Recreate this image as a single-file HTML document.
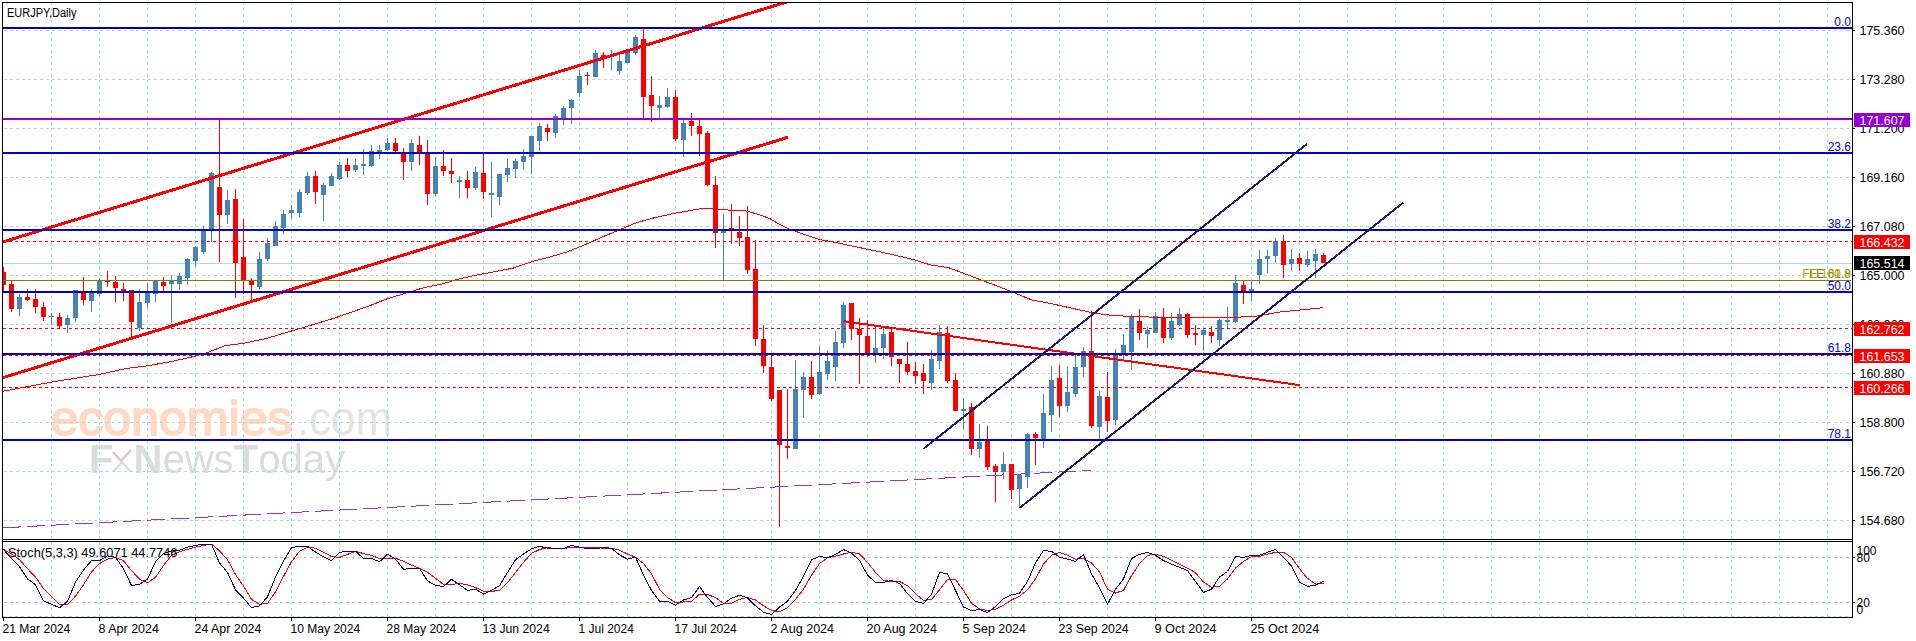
<!DOCTYPE html><html><head><meta charset="utf-8"><title>EURJPY Daily</title>
<style>html,body{margin:0;padding:0;background:#fff;}body{width:1916px;height:641px;overflow:hidden;}svg{display:block;}text{font-family:"Liberation Sans",sans-serif;font-size:12px;}</style></head><body>
<svg width="1916" height="641" viewBox="0 0 1916 641">
<defs><filter id="bl" x="-5%" y="-20%" width="110%" height="140%"><feGaussianBlur stdDeviation="0.7"/></filter>
<clipPath id="cm"><rect x="3" y="3" width="1849" height="536"/></clipPath>
<clipPath id="cs"><rect x="3" y="542" width="1849" height="75"/></clipPath></defs>
<rect width="1916" height="641" fill="#fff"/>
<g filter="url(#bl)">
<text x="50.5" y="435" fill="#ffd9c2" stroke="#ffd9c2" stroke-width="1.8" stroke-linejoin="round" textLength="242" lengthAdjust="spacingAndGlyphs" style="font-size:48px">economies</text>
<text x="297" y="435" fill="#e4e4e4" textLength="95" lengthAdjust="spacingAndGlyphs" style="font-size:48px">.com</text>
<text x="89" y="473" fill="#dcdcdc" textLength="256" lengthAdjust="spacingAndGlyphs" style="font-size:40px"><tspan font-weight="bold">F</tspan><tspan fill="#fff">x</tspan><tspan font-weight="bold">N</tspan>ews<tspan font-weight="bold">T</tspan>oday</text>
<path d="M113 452 L121 461 L131 450" stroke="#e9c4c4" stroke-width="2.5" fill="none"/>
<path d="M113 472 L122 462 L131 472" stroke="#cfe3cf" stroke-width="2.5" fill="none"/>
</g>
<g shape-rendering="crispEdges">
<g stroke="#a6dde6" stroke-width="1" stroke-dasharray="3,3" fill="none">
<path d="M51.5 2V539M51.5 542V617"/>
<path d="M99.5 2V539M99.5 542V617"/>
<path d="M147.5 2V539M147.5 542V617"/>
<path d="M195.5 2V539M195.5 542V617"/>
<path d="M243.5 2V539M243.5 542V617"/>
<path d="M291.5 2V539M291.5 542V617"/>
<path d="M339.5 2V539M339.5 542V617"/>
<path d="M387.5 2V539M387.5 542V617"/>
<path d="M435.5 2V539M435.5 542V617"/>
<path d="M483.5 2V539M483.5 542V617"/>
<path d="M531.5 2V539M531.5 542V617"/>
<path d="M579.5 2V539M579.5 542V617"/>
<path d="M627.5 2V539M627.5 542V617"/>
<path d="M675.5 2V539M675.5 542V617"/>
<path d="M723.5 2V539M723.5 542V617"/>
<path d="M771.5 2V539M771.5 542V617"/>
<path d="M819.5 2V539M819.5 542V617"/>
<path d="M867.5 2V539M867.5 542V617"/>
<path d="M915.5 2V539M915.5 542V617"/>
<path d="M963.5 2V539M963.5 542V617"/>
<path d="M1011.5 2V539M1011.5 542V617"/>
<path d="M1059.5 2V539M1059.5 542V617"/>
<path d="M1107.5 2V539M1107.5 542V617"/>
<path d="M1155.5 2V539M1155.5 542V617"/>
<path d="M1203.5 2V539M1203.5 542V617"/>
<path d="M1251.5 2V539M1251.5 542V617"/>
<path d="M1299.5 2V539M1299.5 542V617"/>
<path d="M1347.5 2V539M1347.5 542V617"/>
<path d="M1395.5 2V539M1395.5 542V617"/>
<path d="M1443.5 2V539M1443.5 542V617"/>
<path d="M1491.5 2V539M1491.5 542V617"/>
<path d="M1539.5 2V539M1539.5 542V617"/>
<path d="M1587.5 2V539M1587.5 542V617"/>
<path d="M1635.5 2V539M1635.5 542V617"/>
<path d="M1683.5 2V539M1683.5 542V617"/>
<path d="M1731.5 2V539M1731.5 542V617"/>
<path d="M1779.5 2V539M1779.5 542V617"/>
<path d="M1827.5 2V539M1827.5 542V617"/>
<path d="M4 30.5H1852"/>
<path d="M4 79.5H1852"/>
<path d="M4 128.5H1852"/>
<path d="M4 177.5H1852"/>
<path d="M4 226.5H1852"/>
<path d="M4 275.5H1852"/>
<path d="M4 324.5H1852"/>
<path d="M4 373.5H1852"/>
<path d="M4 422.5H1852"/>
<path d="M4 471.5H1852"/>
<path d="M4 520.5H1852"/>
<path d="M3 616.5H1852"/>
</g>
<g stroke="#c0c0c0" stroke-width="1" stroke-dasharray="3,3"><path d="M4 557.5H1852M4 602.5H1852"/></g>
<rect x="3" y="263" width="1849" height="1" fill="#a9d9e4"/>
<g clip-path="url(#cm)">
<rect x="3" y="267" width="1" height="25" fill="#ff0000"/>
<rect x="1" y="272" width="5" height="13" fill="#ff0000"/>
<rect x="11" y="281" width="1" height="31" fill="#ff0000"/>
<rect x="9" y="284" width="5" height="25" fill="#ff0000"/>
<rect x="19" y="294" width="1" height="22" fill="#4682b4"/>
<rect x="17" y="297" width="5" height="12" fill="#4682b4"/>
<rect x="27" y="289" width="1" height="12" fill="#ff0000"/>
<rect x="25" y="297" width="5" height="3" fill="#ff0000"/>
<rect x="35" y="289" width="1" height="24" fill="#ff0000"/>
<rect x="33" y="299" width="5" height="8" fill="#ff0000"/>
<rect x="43" y="302" width="1" height="19" fill="#ff0000"/>
<rect x="41" y="307" width="5" height="10" fill="#ff0000"/>
<rect x="51" y="313" width="1" height="12" fill="#4682b4"/>
<rect x="49" y="316" width="5" height="1" fill="#4682b4"/>
<rect x="59" y="313" width="1" height="15" fill="#ff0000"/>
<rect x="57" y="317" width="5" height="9" fill="#ff0000"/>
<rect x="67" y="315" width="1" height="18" fill="#4682b4"/>
<rect x="65" y="318" width="5" height="7" fill="#4682b4"/>
<rect x="75" y="290" width="1" height="32" fill="#4682b4"/>
<rect x="73" y="290" width="5" height="28" fill="#4682b4"/>
<rect x="83" y="277" width="1" height="28" fill="#ff0000"/>
<rect x="81" y="292" width="5" height="8" fill="#ff0000"/>
<rect x="91" y="289" width="1" height="23" fill="#4682b4"/>
<rect x="89" y="292" width="5" height="9" fill="#4682b4"/>
<rect x="99" y="278" width="1" height="18" fill="#4682b4"/>
<rect x="97" y="280" width="5" height="14" fill="#4682b4"/>
<rect x="107" y="271" width="1" height="16" fill="#ff0000"/>
<rect x="105" y="281" width="5" height="1" fill="#ff0000"/>
<rect x="115" y="276" width="1" height="26" fill="#ff0000"/>
<rect x="113" y="282" width="5" height="6" fill="#ff0000"/>
<rect x="123" y="283" width="1" height="18" fill="#ff0000"/>
<rect x="121" y="289" width="5" height="2" fill="#ff0000"/>
<rect x="131" y="290" width="1" height="50" fill="#ff0000"/>
<rect x="129" y="290" width="5" height="32" fill="#ff0000"/>
<rect x="139" y="289" width="1" height="42" fill="#4682b4"/>
<rect x="137" y="302" width="5" height="26" fill="#4682b4"/>
<rect x="147" y="283" width="1" height="25" fill="#4682b4"/>
<rect x="145" y="292" width="5" height="11" fill="#4682b4"/>
<rect x="155" y="280" width="1" height="22" fill="#4682b4"/>
<rect x="153" y="280" width="5" height="14" fill="#4682b4"/>
<rect x="163" y="277" width="1" height="14" fill="#ff0000"/>
<rect x="161" y="282" width="5" height="4" fill="#ff0000"/>
<rect x="171" y="275" width="1" height="48" fill="#4682b4"/>
<rect x="169" y="281" width="5" height="3" fill="#4682b4"/>
<rect x="179" y="273" width="1" height="17" fill="#4682b4"/>
<rect x="177" y="276" width="5" height="8" fill="#4682b4"/>
<rect x="187" y="258" width="1" height="27" fill="#4682b4"/>
<rect x="185" y="259" width="5" height="19" fill="#4682b4"/>
<rect x="195" y="246" width="1" height="21" fill="#4682b4"/>
<rect x="193" y="247" width="5" height="14" fill="#4682b4"/>
<rect x="203" y="226" width="1" height="28" fill="#4682b4"/>
<rect x="201" y="229" width="5" height="23" fill="#4682b4"/>
<rect x="211" y="172" width="1" height="70" fill="#4682b4"/>
<rect x="209" y="173" width="5" height="56" fill="#4682b4"/>
<rect x="219" y="119" width="1" height="143" fill="#ff0000"/>
<rect x="217" y="187" width="5" height="28" fill="#ff0000"/>
<rect x="227" y="190" width="1" height="34" fill="#4682b4"/>
<rect x="225" y="200" width="5" height="15" fill="#4682b4"/>
<rect x="235" y="189" width="1" height="109" fill="#ff0000"/>
<rect x="233" y="199" width="5" height="64" fill="#ff0000"/>
<rect x="243" y="219" width="1" height="75" fill="#ff0000"/>
<rect x="241" y="257" width="5" height="24" fill="#ff0000"/>
<rect x="251" y="278" width="1" height="22" fill="#ff0000"/>
<rect x="249" y="280" width="5" height="5" fill="#ff0000"/>
<rect x="259" y="252" width="1" height="37" fill="#4682b4"/>
<rect x="257" y="259" width="5" height="28" fill="#4682b4"/>
<rect x="267" y="238" width="1" height="23" fill="#4682b4"/>
<rect x="265" y="243" width="5" height="16" fill="#4682b4"/>
<rect x="275" y="221" width="1" height="25" fill="#4682b4"/>
<rect x="273" y="226" width="5" height="20" fill="#4682b4"/>
<rect x="283" y="210" width="1" height="24" fill="#4682b4"/>
<rect x="281" y="214" width="5" height="14" fill="#4682b4"/>
<rect x="291" y="205" width="1" height="14" fill="#4682b4"/>
<rect x="289" y="210" width="5" height="3" fill="#4682b4"/>
<rect x="299" y="189" width="1" height="28" fill="#4682b4"/>
<rect x="297" y="192" width="5" height="21" fill="#4682b4"/>
<rect x="307" y="172" width="1" height="23" fill="#4682b4"/>
<rect x="305" y="176" width="5" height="17" fill="#4682b4"/>
<rect x="315" y="171" width="1" height="33" fill="#ff0000"/>
<rect x="313" y="176" width="5" height="16" fill="#ff0000"/>
<rect x="323" y="183" width="1" height="38" fill="#4682b4"/>
<rect x="321" y="185" width="5" height="10" fill="#4682b4"/>
<rect x="331" y="173" width="1" height="13" fill="#4682b4"/>
<rect x="329" y="176" width="5" height="10" fill="#4682b4"/>
<rect x="339" y="162" width="1" height="18" fill="#4682b4"/>
<rect x="337" y="165" width="5" height="14" fill="#4682b4"/>
<rect x="347" y="158" width="1" height="19" fill="#ff0000"/>
<rect x="345" y="165" width="5" height="6" fill="#ff0000"/>
<rect x="355" y="159" width="1" height="13" fill="#4682b4"/>
<rect x="353" y="165" width="5" height="5" fill="#4682b4"/>
<rect x="363" y="149" width="1" height="26" fill="#4682b4"/>
<rect x="361" y="164" width="5" height="2" fill="#4682b4"/>
<rect x="371" y="145" width="1" height="22" fill="#4682b4"/>
<rect x="369" y="151" width="5" height="15" fill="#4682b4"/>
<rect x="379" y="145" width="1" height="14" fill="#4682b4"/>
<rect x="377" y="150" width="5" height="2" fill="#4682b4"/>
<rect x="387" y="138" width="1" height="13" fill="#4682b4"/>
<rect x="385" y="143" width="5" height="7" fill="#4682b4"/>
<rect x="395" y="138" width="1" height="14" fill="#ff0000"/>
<rect x="393" y="143" width="5" height="8" fill="#ff0000"/>
<rect x="403" y="148" width="1" height="32" fill="#ff0000"/>
<rect x="401" y="153" width="5" height="9" fill="#ff0000"/>
<rect x="411" y="139" width="1" height="32" fill="#4682b4"/>
<rect x="409" y="143" width="5" height="19" fill="#4682b4"/>
<rect x="419" y="136" width="1" height="29" fill="#ff0000"/>
<rect x="417" y="145" width="5" height="7" fill="#ff0000"/>
<rect x="427" y="140" width="1" height="65" fill="#ff0000"/>
<rect x="425" y="153" width="5" height="41" fill="#ff0000"/>
<rect x="435" y="157" width="1" height="39" fill="#4682b4"/>
<rect x="433" y="166" width="5" height="28" fill="#4682b4"/>
<rect x="443" y="150" width="1" height="26" fill="#ff0000"/>
<rect x="441" y="166" width="5" height="5" fill="#ff0000"/>
<rect x="451" y="158" width="1" height="25" fill="#ff0000"/>
<rect x="449" y="171" width="5" height="3" fill="#ff0000"/>
<rect x="459" y="176" width="1" height="22" fill="#4682b4"/>
<rect x="457" y="180" width="5" height="2" fill="#4682b4"/>
<rect x="467" y="171" width="1" height="27" fill="#ff0000"/>
<rect x="465" y="180" width="5" height="8" fill="#ff0000"/>
<rect x="475" y="167" width="1" height="23" fill="#4682b4"/>
<rect x="473" y="172" width="5" height="16" fill="#4682b4"/>
<rect x="483" y="154" width="1" height="45" fill="#ff0000"/>
<rect x="481" y="173" width="5" height="19" fill="#ff0000"/>
<rect x="491" y="162" width="1" height="55" fill="#4682b4"/>
<rect x="489" y="193" width="5" height="2" fill="#4682b4"/>
<rect x="499" y="174" width="1" height="31" fill="#4682b4"/>
<rect x="497" y="174" width="5" height="23" fill="#4682b4"/>
<rect x="507" y="159" width="1" height="23" fill="#4682b4"/>
<rect x="505" y="168" width="5" height="7" fill="#4682b4"/>
<rect x="515" y="159" width="1" height="19" fill="#4682b4"/>
<rect x="513" y="161" width="5" height="8" fill="#4682b4"/>
<rect x="523" y="149" width="1" height="20" fill="#4682b4"/>
<rect x="521" y="156" width="5" height="6" fill="#4682b4"/>
<rect x="531" y="136" width="1" height="38" fill="#4682b4"/>
<rect x="529" y="136" width="5" height="21" fill="#4682b4"/>
<rect x="539" y="123" width="1" height="28" fill="#4682b4"/>
<rect x="537" y="126" width="5" height="15" fill="#4682b4"/>
<rect x="547" y="124" width="1" height="17" fill="#ff0000"/>
<rect x="545" y="128" width="5" height="4" fill="#ff0000"/>
<rect x="555" y="114" width="1" height="24" fill="#4682b4"/>
<rect x="553" y="116" width="5" height="17" fill="#4682b4"/>
<rect x="563" y="106" width="1" height="19" fill="#4682b4"/>
<rect x="561" y="108" width="5" height="10" fill="#4682b4"/>
<rect x="571" y="99" width="1" height="25" fill="#4682b4"/>
<rect x="569" y="100" width="5" height="8" fill="#4682b4"/>
<rect x="579" y="70" width="1" height="27" fill="#4682b4"/>
<rect x="577" y="76" width="5" height="17" fill="#4682b4"/>
<rect x="587" y="72" width="1" height="13" fill="#ff0000"/>
<rect x="585" y="75" width="5" height="1" fill="#ff0000"/>
<rect x="595" y="50" width="1" height="27" fill="#4682b4"/>
<rect x="593" y="53" width="5" height="24" fill="#4682b4"/>
<rect x="603" y="52" width="1" height="16" fill="#ff0000"/>
<rect x="601" y="55" width="5" height="2" fill="#ff0000"/>
<rect x="611" y="50" width="1" height="20" fill="#4682b4"/>
<rect x="609" y="55" width="5" height="1" fill="#4682b4"/>
<rect x="619" y="53" width="1" height="22" fill="#4682b4"/>
<rect x="617" y="61" width="5" height="10" fill="#4682b4"/>
<rect x="627" y="50" width="1" height="13" fill="#4682b4"/>
<rect x="625" y="51" width="5" height="12" fill="#4682b4"/>
<rect x="635" y="35" width="1" height="20" fill="#4682b4"/>
<rect x="633" y="37" width="5" height="16" fill="#4682b4"/>
<rect x="643" y="28" width="1" height="92" fill="#ff0000"/>
<rect x="641" y="39" width="5" height="58" fill="#ff0000"/>
<rect x="651" y="76" width="1" height="46" fill="#ff0000"/>
<rect x="649" y="95" width="5" height="11" fill="#ff0000"/>
<rect x="659" y="96" width="1" height="24" fill="#4682b4"/>
<rect x="657" y="105" width="5" height="3" fill="#4682b4"/>
<rect x="667" y="88" width="1" height="20" fill="#4682b4"/>
<rect x="665" y="97" width="5" height="10" fill="#4682b4"/>
<rect x="675" y="90" width="1" height="51" fill="#ff0000"/>
<rect x="673" y="97" width="5" height="42" fill="#ff0000"/>
<rect x="683" y="120" width="1" height="37" fill="#4682b4"/>
<rect x="681" y="123" width="5" height="17" fill="#4682b4"/>
<rect x="691" y="113" width="1" height="23" fill="#ff0000"/>
<rect x="689" y="121" width="5" height="5" fill="#ff0000"/>
<rect x="699" y="120" width="1" height="36" fill="#ff0000"/>
<rect x="697" y="126" width="5" height="8" fill="#ff0000"/>
<rect x="707" y="131" width="1" height="55" fill="#ff0000"/>
<rect x="705" y="133" width="5" height="52" fill="#ff0000"/>
<rect x="715" y="176" width="1" height="72" fill="#ff0000"/>
<rect x="713" y="185" width="5" height="48" fill="#ff0000"/>
<rect x="723" y="214" width="1" height="66" fill="#4682b4"/>
<rect x="721" y="230" width="5" height="3" fill="#4682b4"/>
<rect x="731" y="204" width="1" height="40" fill="#ff0000"/>
<rect x="729" y="228" width="5" height="3" fill="#ff0000"/>
<rect x="739" y="216" width="1" height="30" fill="#ff0000"/>
<rect x="737" y="232" width="5" height="6" fill="#ff0000"/>
<rect x="747" y="206" width="1" height="68" fill="#ff0000"/>
<rect x="745" y="237" width="5" height="33" fill="#ff0000"/>
<rect x="755" y="240" width="1" height="106" fill="#ff0000"/>
<rect x="753" y="269" width="5" height="70" fill="#ff0000"/>
<rect x="763" y="325" width="1" height="48" fill="#ff0000"/>
<rect x="761" y="339" width="5" height="27" fill="#ff0000"/>
<rect x="771" y="356" width="1" height="45" fill="#ff0000"/>
<rect x="769" y="367" width="5" height="32" fill="#ff0000"/>
<rect x="779" y="390" width="1" height="137" fill="#ff0000"/>
<rect x="777" y="390" width="5" height="55" fill="#ff0000"/>
<rect x="787" y="389" width="1" height="70" fill="#ff0000"/>
<rect x="785" y="446" width="5" height="2" fill="#ff0000"/>
<rect x="795" y="360" width="1" height="89" fill="#4682b4"/>
<rect x="793" y="389" width="5" height="60" fill="#4682b4"/>
<rect x="803" y="372" width="1" height="46" fill="#4682b4"/>
<rect x="801" y="377" width="5" height="13" fill="#4682b4"/>
<rect x="811" y="361" width="1" height="38" fill="#ff0000"/>
<rect x="809" y="377" width="5" height="18" fill="#ff0000"/>
<rect x="819" y="346" width="1" height="49" fill="#4682b4"/>
<rect x="817" y="372" width="5" height="22" fill="#4682b4"/>
<rect x="827" y="351" width="1" height="29" fill="#4682b4"/>
<rect x="825" y="361" width="5" height="13" fill="#4682b4"/>
<rect x="835" y="331" width="1" height="50" fill="#4682b4"/>
<rect x="833" y="342" width="5" height="25" fill="#4682b4"/>
<rect x="843" y="302" width="1" height="46" fill="#4682b4"/>
<rect x="841" y="305" width="5" height="38" fill="#4682b4"/>
<rect x="851" y="303" width="1" height="37" fill="#ff0000"/>
<rect x="849" y="303" width="5" height="26" fill="#ff0000"/>
<rect x="859" y="318" width="1" height="66" fill="#ff0000"/>
<rect x="857" y="329" width="5" height="6" fill="#ff0000"/>
<rect x="867" y="320" width="1" height="37" fill="#ff0000"/>
<rect x="865" y="336" width="5" height="19" fill="#ff0000"/>
<rect x="875" y="326" width="1" height="37" fill="#4682b4"/>
<rect x="873" y="348" width="5" height="7" fill="#4682b4"/>
<rect x="883" y="327" width="1" height="32" fill="#4682b4"/>
<rect x="881" y="334" width="5" height="14" fill="#4682b4"/>
<rect x="891" y="329" width="1" height="37" fill="#ff0000"/>
<rect x="889" y="332" width="5" height="25" fill="#ff0000"/>
<rect x="899" y="359" width="1" height="24" fill="#ff0000"/>
<rect x="897" y="359" width="5" height="5" fill="#ff0000"/>
<rect x="907" y="342" width="1" height="33" fill="#ff0000"/>
<rect x="905" y="364" width="5" height="8" fill="#ff0000"/>
<rect x="915" y="362" width="1" height="22" fill="#ff0000"/>
<rect x="913" y="371" width="5" height="5" fill="#ff0000"/>
<rect x="923" y="364" width="1" height="30" fill="#ff0000"/>
<rect x="921" y="373" width="5" height="8" fill="#ff0000"/>
<rect x="931" y="350" width="1" height="40" fill="#4682b4"/>
<rect x="929" y="359" width="5" height="24" fill="#4682b4"/>
<rect x="939" y="325" width="1" height="44" fill="#4682b4"/>
<rect x="937" y="332" width="5" height="29" fill="#4682b4"/>
<rect x="947" y="326" width="1" height="57" fill="#ff0000"/>
<rect x="945" y="333" width="5" height="48" fill="#ff0000"/>
<rect x="955" y="373" width="1" height="38" fill="#ff0000"/>
<rect x="953" y="380" width="5" height="31" fill="#ff0000"/>
<rect x="963" y="398" width="1" height="31" fill="#4682b4"/>
<rect x="961" y="409" width="5" height="2" fill="#4682b4"/>
<rect x="971" y="403" width="1" height="52" fill="#ff0000"/>
<rect x="969" y="407" width="5" height="42" fill="#ff0000"/>
<rect x="979" y="424" width="1" height="33" fill="#4682b4"/>
<rect x="977" y="442" width="5" height="7" fill="#4682b4"/>
<rect x="987" y="426" width="1" height="44" fill="#ff0000"/>
<rect x="985" y="440" width="5" height="27" fill="#ff0000"/>
<rect x="995" y="464" width="1" height="38" fill="#ff0000"/>
<rect x="993" y="466" width="5" height="6" fill="#ff0000"/>
<rect x="1003" y="452" width="1" height="27" fill="#4682b4"/>
<rect x="1001" y="464" width="5" height="8" fill="#4682b4"/>
<rect x="1011" y="464" width="1" height="35" fill="#ff0000"/>
<rect x="1009" y="464" width="5" height="26" fill="#ff0000"/>
<rect x="1019" y="475" width="1" height="32" fill="#4682b4"/>
<rect x="1017" y="475" width="5" height="14" fill="#4682b4"/>
<rect x="1027" y="433" width="1" height="55" fill="#4682b4"/>
<rect x="1025" y="434" width="5" height="43" fill="#4682b4"/>
<rect x="1035" y="432" width="1" height="33" fill="#ff0000"/>
<rect x="1033" y="434" width="5" height="4" fill="#ff0000"/>
<rect x="1043" y="394" width="1" height="54" fill="#4682b4"/>
<rect x="1041" y="413" width="5" height="27" fill="#4682b4"/>
<rect x="1051" y="366" width="1" height="66" fill="#4682b4"/>
<rect x="1049" y="380" width="5" height="35" fill="#4682b4"/>
<rect x="1059" y="365" width="1" height="52" fill="#ff0000"/>
<rect x="1057" y="378" width="5" height="28" fill="#ff0000"/>
<rect x="1067" y="367" width="1" height="45" fill="#4682b4"/>
<rect x="1065" y="392" width="5" height="14" fill="#4682b4"/>
<rect x="1075" y="354" width="1" height="43" fill="#4682b4"/>
<rect x="1073" y="367" width="5" height="27" fill="#4682b4"/>
<rect x="1083" y="347" width="1" height="30" fill="#4682b4"/>
<rect x="1081" y="351" width="5" height="16" fill="#4682b4"/>
<rect x="1091" y="311" width="1" height="117" fill="#ff0000"/>
<rect x="1089" y="351" width="5" height="75" fill="#ff0000"/>
<rect x="1099" y="391" width="1" height="48" fill="#4682b4"/>
<rect x="1097" y="396" width="5" height="31" fill="#4682b4"/>
<rect x="1107" y="372" width="1" height="60" fill="#ff0000"/>
<rect x="1105" y="397" width="5" height="24" fill="#ff0000"/>
<rect x="1115" y="349" width="1" height="76" fill="#4682b4"/>
<rect x="1113" y="354" width="5" height="66" fill="#4682b4"/>
<rect x="1123" y="334" width="1" height="26" fill="#4682b4"/>
<rect x="1121" y="345" width="5" height="9" fill="#4682b4"/>
<rect x="1131" y="314" width="1" height="56" fill="#4682b4"/>
<rect x="1129" y="316" width="5" height="36" fill="#4682b4"/>
<rect x="1139" y="309" width="1" height="31" fill="#ff0000"/>
<rect x="1137" y="321" width="5" height="12" fill="#ff0000"/>
<rect x="1147" y="327" width="1" height="21" fill="#4682b4"/>
<rect x="1145" y="330" width="5" height="4" fill="#4682b4"/>
<rect x="1155" y="312" width="1" height="21" fill="#4682b4"/>
<rect x="1153" y="316" width="5" height="17" fill="#4682b4"/>
<rect x="1163" y="308" width="1" height="35" fill="#ff0000"/>
<rect x="1161" y="317" width="5" height="21" fill="#ff0000"/>
<rect x="1171" y="313" width="1" height="27" fill="#4682b4"/>
<rect x="1169" y="321" width="5" height="17" fill="#4682b4"/>
<rect x="1179" y="308" width="1" height="18" fill="#4682b4"/>
<rect x="1177" y="314" width="5" height="11" fill="#4682b4"/>
<rect x="1187" y="313" width="1" height="25" fill="#ff0000"/>
<rect x="1185" y="314" width="5" height="21" fill="#ff0000"/>
<rect x="1195" y="325" width="1" height="20" fill="#ff0000"/>
<rect x="1193" y="333" width="5" height="2" fill="#ff0000"/>
<rect x="1203" y="329" width="1" height="22" fill="#4682b4"/>
<rect x="1201" y="330" width="5" height="5" fill="#4682b4"/>
<rect x="1211" y="326" width="1" height="17" fill="#ff0000"/>
<rect x="1209" y="332" width="5" height="4" fill="#ff0000"/>
<rect x="1219" y="319" width="1" height="27" fill="#4682b4"/>
<rect x="1217" y="320" width="5" height="20" fill="#4682b4"/>
<rect x="1227" y="307" width="1" height="21" fill="#4682b4"/>
<rect x="1225" y="320" width="5" height="2" fill="#4682b4"/>
<rect x="1235" y="275" width="1" height="48" fill="#4682b4"/>
<rect x="1233" y="283" width="5" height="39" fill="#4682b4"/>
<rect x="1243" y="281" width="1" height="23" fill="#ff0000"/>
<rect x="1241" y="285" width="5" height="6" fill="#ff0000"/>
<rect x="1251" y="280" width="1" height="21" fill="#4682b4"/>
<rect x="1249" y="289" width="5" height="2" fill="#4682b4"/>
<rect x="1259" y="250" width="1" height="34" fill="#4682b4"/>
<rect x="1257" y="259" width="5" height="16" fill="#4682b4"/>
<rect x="1267" y="250" width="1" height="23" fill="#4682b4"/>
<rect x="1265" y="256" width="5" height="3" fill="#4682b4"/>
<rect x="1275" y="238" width="1" height="25" fill="#4682b4"/>
<rect x="1273" y="241" width="5" height="15" fill="#4682b4"/>
<rect x="1283" y="235" width="1" height="43" fill="#ff0000"/>
<rect x="1281" y="241" width="5" height="24" fill="#ff0000"/>
<rect x="1291" y="249" width="1" height="22" fill="#4682b4"/>
<rect x="1289" y="259" width="5" height="5" fill="#4682b4"/>
<rect x="1299" y="253" width="1" height="18" fill="#ff0000"/>
<rect x="1297" y="258" width="5" height="6" fill="#ff0000"/>
<rect x="1307" y="251" width="1" height="16" fill="#4682b4"/>
<rect x="1305" y="259" width="5" height="6" fill="#4682b4"/>
<rect x="1315" y="249" width="1" height="29" fill="#4682b4"/>
<rect x="1313" y="254" width="5" height="7" fill="#4682b4"/>
<rect x="1323" y="253" width="1" height="10" fill="#ff0000"/>
<rect x="1321" y="255" width="5" height="8" fill="#ff0000"/>
</g>
<polyline points="2.8,391.3 51.5,382.1 100,374.3 126.1,368.5 147,365.9 173,361.2 196,356 206.5,352.9 225.3,345.6 244,343.2 267,338.3 280,334.4 298,329.1 315.9,323.7 333.8,318.3 351.8,312 369.7,305.7 387.6,298.6 405.6,293.2 423.5,287.8 441.5,284.2 459.4,278.8 477.3,274.9 495.3,271.6 513.2,268.1 531.2,261.8 549.1,257.3 567,251.9 585,244.7 602.9,236.7 617.6,230.7 636.6,222.6 654.3,217.8 674.6,213.3 695,209.7 705.8,208 712.6,208 719.4,209.7 730.3,210.1 742.5,210.4 749.3,211.7 760.1,215.1 769.6,218.5 776.4,222.6 790,229.4 803.6,234.1 819.8,239.5 837.5,242.9 860,247.7 889.7,253.9 913,259.5 930,264.8 949,267.8 1000.5,287.3 1032,300 1052,303.8 1094,313.1 1113.8,315.7 1133.5,316.4 1165,317.6 1221.8,317.6 1254,316.6 1278.5,312.2 1323,307.7" fill="none" stroke="#ff0000" stroke-width="1"/>
<path d="M3.5 527.8 L1091 470.3" fill="none" stroke="#9932cc" stroke-width="1" stroke-dasharray="18,6"/>
<rect x="3" y="280" width="1848" height="1" fill="#808000"/>
<g stroke="#ff0000" stroke-width="1" stroke-dasharray="3,3"><path d="M3 241.5H1852M3 328.5H1852M3 355.5H1852M3 387.5H1852"/></g>
<g clip-path="url(#cm)" stroke="#ff0000" fill="none">
<path d="M3 241.9 L790 1" stroke-width="3"/>
<path d="M3 377.6 L788 137.3" stroke-width="3"/>
<path d="M843.5 321.2 L1299.8 385.2" stroke-width="2"/>
</g>
<rect x="3" y="27" width="1849" height="2" fill="#0000cd"/>
<rect x="3" y="152" width="1849" height="2" fill="#0000cd"/>
<rect x="3" y="229" width="1849" height="2" fill="#0000cd"/>
<rect x="3" y="291" width="1849" height="2" fill="#0000cd"/>
<rect x="3" y="353" width="1849" height="2" fill="#0000cd"/>
<rect x="3" y="439" width="1849" height="2" fill="#0000cd"/>
<rect x="3" y="118" width="1849" height="2" fill="#9400d3"/>
<g stroke="#191970" stroke-width="2" fill="none">
<path d="M923.5 448.8 L1307 144"/>
<path d="M1019.5 508 L1403 202.8"/>
</g>
<g clip-path="url(#cs)" fill="none" stroke-width="1">
<polyline stroke="#ff0000" points="3.5,549.5 11.5,554 19.5,559.7 27.5,568.7 35.5,577 43.5,588.5 51.5,596.8 59.5,604.3 67.5,604.5 75.5,596.2 83.5,584.7 91.5,571.9 99.5,563.6 107.5,559.1 115.5,557.4 123.5,560.8 131.5,570.6 139.5,579.2 147.5,582.8 155.5,577.4 163.5,565.5 171.5,555.3 179.5,551.8 187.5,549.3 195.5,547.2 203.5,545.4 211.5,544.1 219.5,550.8 227.5,559.7 235.5,574.5 243.5,586 251.5,599.4 259.5,604.3 267.5,603.5 275.5,591.7 283.5,576.4 291.5,561.7 299.5,551.4 307.5,547.2 315.5,548.2 323.5,552.1 331.5,556.5 339.5,557.4 347.5,554.4 355.5,551.2 363.5,553.6 371.5,555.3 379.5,558.7 387.5,558.2 395.5,558.2 403.5,561.3 411.5,565.1 419.5,568.3 427.5,572.3 435.5,578.3 443.5,584.4 451.5,584.4 459.5,583.4 467.5,584.7 475.5,587.6 483.5,591.1 491.5,591.5 499.5,590.2 507.5,582.8 515.5,572.5 523.5,562.3 531.5,553.4 539.5,549.5 547.5,547.6 555.5,548.5 563.5,548.5 571.5,547.2 579.5,547.2 587.5,547.2 595.5,547.6 603.5,548.2 611.5,548.2 619.5,550.2 627.5,554 635.5,557.2 643.5,563.6 651.5,573.8 659.5,589.2 667.5,597.5 675.5,602.6 683.5,602 691.5,601.3 699.5,594.3 707.5,594.5 715.5,597.5 723.5,603.5 731.5,603.2 739.5,599.4 747.5,597.5 755.5,600 763.5,605.8 771.5,610.5 779.5,611.6 787.5,607.7 795.5,599.4 803.5,589.2 811.5,575.1 819.5,563.6 827.5,557.8 835.5,556.2 843.5,554 851.5,552.3 859.5,554 867.5,562.3 875.5,572.5 883.5,580.2 891.5,581.5 899.5,581.5 907.5,585.6 915.5,593.6 923.5,600.4 931.5,599.4 939.5,589.8 947.5,579.6 955.5,579.6 963.5,590.4 971.5,603.2 979.5,609 987.5,610.5 995.5,609.4 1003.5,605.2 1011.5,600 1019.5,596.2 1027.5,589.8 1035.5,578.9 1043.5,564.2 1051.5,555.3 1059.5,552.3 1067.5,555.3 1075.5,559.1 1083.5,558.5 1091.5,562.9 1099.5,571.9 1107.5,589.2 1115.5,593 1123.5,590.4 1131.5,575.7 1139.5,563.6 1147.5,555.3 1155.5,554.4 1163.5,556.3 1171.5,560.1 1179.5,564.2 1187.5,568.1 1195.5,572.8 1203.5,582.1 1211.5,587.3 1219.5,586.4 1227.5,578.9 1235.5,568.1 1243.5,561.4 1251.5,556.5 1259.5,556.3 1267.5,554.2 1275.5,552.3 1283.5,552.3 1291.5,557.4 1299.5,568.7 1307.5,578.3 1315.5,584.1 1323.5,583.4"/>
<polyline stroke="#00008b" points="3.5,549.5 11.5,558.5 19.5,566.8 27.5,578.9 35.5,584.7 43.5,600.7 51.5,604.3 59.5,607.7 67.5,601.3 75.5,582.1 83.5,570 91.5,560.6 99.5,560.6 107.5,555.9 115.5,557.2 123.5,568.7 131.5,585.6 139.5,584.3 147.5,579.2 155.5,561.7 163.5,553.4 171.5,550.8 179.5,550.2 187.5,547.2 195.5,545.4 203.5,544.1 211.5,544.1 219.5,562.9 227.5,572.5 235.5,589.8 243.5,598.1 251.5,607.7 259.5,605.8 267.5,596.8 275.5,577 283.5,561 291.5,547.6 299.5,546.3 307.5,546.3 315.5,552.1 323.5,556.9 331.5,560.8 339.5,552.3 347.5,551.2 355.5,551.2 363.5,558.5 371.5,558.5 379.5,561.7 387.5,554.2 395.5,559.1 403.5,569.3 411.5,568.3 419.5,568.3 427.5,580.9 435.5,585.3 443.5,586.6 451.5,579.2 459.5,584.7 467.5,590.4 475.5,589.2 483.5,594 491.5,590.4 499.5,585.6 507.5,572.5 515.5,559.7 523.5,554 531.5,548.9 539.5,546.3 547.5,548.2 555.5,548.5 563.5,548.5 571.5,545.4 579.5,547.2 587.5,548.5 595.5,548.5 603.5,547.6 611.5,548.2 619.5,554.9 627.5,559.1 635.5,557.2 643.5,575.1 651.5,590.4 659.5,601.3 667.5,601.3 675.5,605.2 683.5,600 691.5,597.5 699.5,586.6 707.5,597.5 715.5,606.4 723.5,603.9 731.5,598.1 739.5,595.3 747.5,597.9 755.5,605.8 763.5,612.2 771.5,614.5 779.5,607.1 787.5,601.3 795.5,590.4 803.5,576.4 811.5,559.7 819.5,556.5 827.5,557.8 835.5,554.4 843.5,549.5 851.5,553.1 859.5,560.4 867.5,575.1 875.5,582.4 883.5,582.4 891.5,580.5 899.5,583.4 907.5,593.6 915.5,601.3 923.5,603.5 931.5,594.3 939.5,572.5 947.5,573.8 955.5,590.4 963.5,607.1 971.5,610.5 979.5,609.6 987.5,612.5 995.5,606.4 1003.5,598.8 1011.5,594.9 1019.5,593.3 1027.5,581.5 1035.5,562.9 1043.5,550.4 1051.5,551.4 1059.5,557.2 1067.5,559.1 1075.5,561.4 1083.5,554.6 1091.5,573.8 1099.5,587.9 1107.5,604.3 1115.5,589.2 1123.5,578.9 1131.5,558.5 1139.5,554.4 1147.5,552.3 1155.5,555.3 1163.5,560.6 1171.5,564.2 1179.5,567.2 1187.5,570.6 1195.5,581.5 1203.5,592.4 1211.5,589.2 1219.5,577 1227.5,571.5 1235.5,556.5 1243.5,557.4 1251.5,555.3 1259.5,555.3 1267.5,552.3 1275.5,549.5 1283.5,557.2 1291.5,566.1 1299.5,582.1 1307.5,586.4 1315.5,585.3 1323.5,581.2"/>
</g>
<g fill="#000">
<rect x="2" y="2" width="1851" height="1"/>
<rect x="2" y="2" width="1" height="616"/>
<rect x="1852" y="2" width="1" height="616"/>
<rect x="2" y="539" width="1851" height="1"/>
<rect x="2" y="541" width="1851" height="1"/>
<rect x="2" y="617" width="1851" height="1"/>
<rect x="1853" y="30" width="2" height="1"/>
<rect x="1853" y="79" width="2" height="1"/>
<rect x="1853" y="128" width="2" height="1"/>
<rect x="1853" y="177" width="2" height="1"/>
<rect x="1853" y="226" width="2" height="1"/>
<rect x="1853" y="275" width="2" height="1"/>
<rect x="1853" y="324" width="2" height="1"/>
<rect x="1853" y="373" width="2" height="1"/>
<rect x="1853" y="422" width="2" height="1"/>
<rect x="1853" y="471" width="2" height="1"/>
<rect x="1853" y="520" width="2" height="1"/>
<rect x="1853" y="557" width="2" height="1"/>
<rect x="1853" y="602" width="2" height="1"/>
<rect x="3" y="618" width="1" height="3"/>
<rect x="99" y="618" width="1" height="3"/>
<rect x="195" y="618" width="1" height="3"/>
<rect x="291" y="618" width="1" height="3"/>
<rect x="387" y="618" width="1" height="3"/>
<rect x="483" y="618" width="1" height="3"/>
<rect x="579" y="618" width="1" height="3"/>
<rect x="675" y="618" width="1" height="3"/>
<rect x="771" y="618" width="1" height="3"/>
<rect x="867" y="618" width="1" height="3"/>
<rect x="963" y="618" width="1" height="3"/>
<rect x="1059" y="618" width="1" height="3"/>
<rect x="1155" y="618" width="1" height="3"/>
<rect x="1251" y="618" width="1" height="3"/>
</g>
</g>
<g fill="#000">
<text x="7" y="17" textLength="69.5" lengthAdjust="spacingAndGlyphs">EURJPY,Daily</text>
<text x="8" y="557" textLength="169.5" lengthAdjust="spacingAndGlyphs">Stoch(5,3,3) 49.6071 44.7746</text>
<text x="1859.5" y="35" textLength="45" lengthAdjust="spacingAndGlyphs">175.360</text>
<text x="1859.5" y="84" textLength="45" lengthAdjust="spacingAndGlyphs">173.280</text>
<text x="1859.5" y="133" textLength="45" lengthAdjust="spacingAndGlyphs">171.200</text>
<text x="1859.5" y="182" textLength="45" lengthAdjust="spacingAndGlyphs">169.160</text>
<text x="1859.5" y="231" textLength="45" lengthAdjust="spacingAndGlyphs">167.080</text>
<text x="1859.5" y="280" textLength="45" lengthAdjust="spacingAndGlyphs">165.000</text>
<text x="1859.5" y="329" textLength="45" lengthAdjust="spacingAndGlyphs">162.960</text>
<text x="1859.5" y="378" textLength="45" lengthAdjust="spacingAndGlyphs">160.880</text>
<text x="1859.5" y="427" textLength="45" lengthAdjust="spacingAndGlyphs">158.800</text>
<text x="1859.5" y="476" textLength="45" lengthAdjust="spacingAndGlyphs">156.720</text>
<text x="1859.5" y="525" textLength="45" lengthAdjust="spacingAndGlyphs">154.680</text>
<text x="1856.5" y="555">100</text><text x="1856.5" y="562">80</text><text x="1856.5" y="607">20</text><text x="1856.5" y="614">0</text>
<text x="2.5" y="633" textLength="67.8" lengthAdjust="spacingAndGlyphs">21 Mar 2024</text>
<text x="98.5" y="633" textLength="60.5" lengthAdjust="spacingAndGlyphs">8 Apr 2024</text>
<text x="194.5" y="633" textLength="66.9" lengthAdjust="spacingAndGlyphs">24 Apr 2024</text>
<text x="290.5" y="633" textLength="69.7" lengthAdjust="spacingAndGlyphs">10 May 2024</text>
<text x="386.5" y="633" textLength="69.7" lengthAdjust="spacingAndGlyphs">28 May 2024</text>
<text x="482.5" y="633" textLength="67.2" lengthAdjust="spacingAndGlyphs">13 Jun 2024</text>
<text x="578.5" y="633" textLength="55.4" lengthAdjust="spacingAndGlyphs">1 Jul 2024</text>
<text x="674.5" y="633" textLength="62.2" lengthAdjust="spacingAndGlyphs">17 Jul 2024</text>
<text x="770.5" y="633" textLength="63.6" lengthAdjust="spacingAndGlyphs">2 Aug 2024</text>
<text x="866.5" y="633" textLength="70.5" lengthAdjust="spacingAndGlyphs">20 Aug 2024</text>
<text x="962.5" y="633" textLength="63.3" lengthAdjust="spacingAndGlyphs">5 Sep 2024</text>
<text x="1058.5" y="633" textLength="70.2" lengthAdjust="spacingAndGlyphs">23 Sep 2024</text>
<text x="1154.5" y="633" textLength="62" lengthAdjust="spacingAndGlyphs">9 Oct 2024</text>
<text x="1250.5" y="633" textLength="68.7" lengthAdjust="spacingAndGlyphs">25 Oct 2024</text>
</g>
<g fill="#0000cd" text-anchor="end">
<text x="1851" y="26">0.0</text>
<text x="1851" y="151">23.6</text>
<text x="1851" y="228">38.2</text>
<text x="1851" y="290">50.0</text>
<text x="1851" y="352">61.8</text>
<text x="1851" y="438">78.1</text>
</g>
<text x="1851" y="278" text-anchor="end" fill="#808000">FE 61.8</text>
<text x="1851" y="278" text-anchor="end" fill="#b4a400">FE 100.0</text>
<rect x="1854" y="113" width="56" height="14" fill="#9400d3" shape-rendering="crispEdges"/>
<text x="1859.5" y="125" fill="#fff" textLength="45" lengthAdjust="spacingAndGlyphs">171.607</text>
<rect x="1854" y="235" width="56" height="14" fill="#ff0000" shape-rendering="crispEdges"/>
<text x="1859.5" y="247" fill="#fff" textLength="45" lengthAdjust="spacingAndGlyphs">166.432</text>
<rect x="1854" y="322" width="56" height="14" fill="#ff0000" shape-rendering="crispEdges"/>
<text x="1859.5" y="334" fill="#fff" textLength="45" lengthAdjust="spacingAndGlyphs">162.762</text>
<rect x="1854" y="349" width="56" height="14" fill="#ff0000" shape-rendering="crispEdges"/>
<text x="1859.5" y="361" fill="#fff" textLength="45" lengthAdjust="spacingAndGlyphs">161.653</text>
<rect x="1854" y="381" width="56" height="14" fill="#ff0000" shape-rendering="crispEdges"/>
<text x="1859.5" y="393" fill="#fff" textLength="45" lengthAdjust="spacingAndGlyphs">160.266</text>
<rect x="1854" y="256" width="56" height="14" fill="#000000" shape-rendering="crispEdges"/>
<text x="1859.5" y="268" fill="#fff" textLength="45" lengthAdjust="spacingAndGlyphs">165.514</text>
</svg></body></html>
